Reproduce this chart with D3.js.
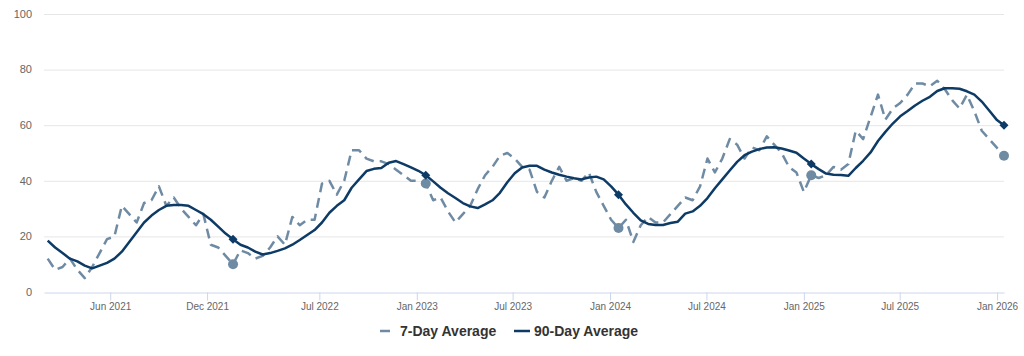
<!DOCTYPE html>
<html>
<head>
<meta charset="utf-8">
<script src="https://cdn.jsdelivr.net/npm/d3@7"></script>
<style>
  html, body { margin: 0; padding: 0; background: #ffffff; }
  svg { display: block; font-family: "Liberation Sans", Arial, sans-serif; }
</style>
</head>
<body>
<svg id="chart" width="1024" height="356"></svg>
<script>
// ---- Data (bi-weekly readings, last reading on 2026-01-14) ----
const lastDate = "2026-01-14";
const stepDays = 14;

const sevenDay = [
  12, 8, 9, 12, 8, 5, 9, 14, 19, 20,
  31, 28, 25, 32, 33, 38, 31, 34, 30, 27,
  24, 28, 17, 16, 13, 10, 15, 14, 12, 13,
  16, 20, 17, 27, 24, 26, 26, 39, 40, 35,
  40, 51, 51, 48, 47, 47, 46, 44, 42, 40,
  40, 39, 33, 34, 29, 25, 28, 31, 37, 42,
  45, 49, 50, 48, 45, 44, 36, 34, 40, 45,
  40, 41, 40, 43, 36, 31, 26, 23, 26, 18,
  24, 27, 25, 25, 28, 31, 34, 33, 38, 48,
  43, 48, 55, 53, 48, 52, 51, 56, 53, 50,
  45, 43, 36, 42, 41, 42, 45, 44, 46, 58,
  55, 63, 71, 62, 66, 68, 71, 75, 75, 74,
  76, 73, 69, 66, 71, 65, 58, 55, 52, 49
];

const ninetyDay = [
  18.5, 16, 14, 12, 11, 9.5, 8.5, 9.5, 10.5, 12,
  14.5, 18, 21.5, 25, 27.5, 29.5, 31, 31.3, 31.3, 31,
  29.5, 28, 26, 23.5, 21, 19, 17, 16, 14.5, 13.5,
  14, 14.8, 15.7, 17, 18.7, 20.5, 22.3, 25, 28.5, 31,
  33, 37.5, 40.5, 43.5, 44.3, 44.6, 46.5, 47.1, 46, 44.8,
  43.6, 42, 39.8, 37.5, 35.5, 33.8, 32, 30.8, 30.2, 31.5,
  33, 35.7, 39.5, 42.7, 44.8, 45.4, 45.4, 44, 43, 42.2,
  41.5, 40.9, 40.5, 41.2, 41.5, 40.5, 38, 35, 31.5, 28.5,
  25.8, 24.5, 24.1, 24.1, 24.8, 25.3, 28.2, 29, 31, 33.8,
  37.3, 40.5, 43.7, 46.8, 49.2, 50.5, 51.4, 52, 52.1, 51.6,
  50.9, 50.1, 48, 46, 44.2, 42.6, 42.2, 42.1, 41.8, 44.6,
  47.2, 50.2, 54.3, 57.6, 60.6, 63.2, 65.1, 67.1, 68.8, 70.2,
  72.3, 73.3, 73.3, 73.1, 72.2, 71, 68.5, 65.3, 62, 60
];

// indices that carry a highlighted marker (mid-January each year)
const markerIdx = [25, 51, 77, 103, 129];

const xDomain = ["2021-01-27", "2026-01-14"];
const xTickDates = ["2021-06-01", "2021-12-01", "2022-07-01", "2023-01-01", "2023-07-01",
                    "2024-01-01", "2024-07-01", "2025-01-01", "2025-07-01", "2026-01-01"];
const yTicks = [0, 20, 40, 60, 80, 100];
const seriesNames = ["7-Day Average", "90-Day Average"];

// ---- Build ----
(function () {
const parse = d3.utcParse("%Y-%m-%d");
const end = parse(lastDate);
const n = sevenDay.length;
const dates = d3.range(n).map(i => d3.utcDay.offset(end, -(n - 1 - i) * stepDays));

const M = { left: 44, right: 1004, top: 14, bottom: 292 };

const svg = d3.select("#chart");
const x = d3.scaleUtc().domain(xDomain.map(parse)).range([M.left, M.right]);
const y = d3.scaleLinear().domain([0, 100]).range([M.bottom, M.top]);

const col7 = "#6f8ba4";
const col90 = "#0d3b66";

// gridlines
svg.append("g")
  .selectAll("line")
  .data(yTicks.filter(t => t !== 0))
  .join("line")
  .attr("x1", M.left).attr("x2", M.right)
  .attr("y1", d => y(d) + 0.5).attr("y2", d => y(d) + 0.5)
  .attr("stroke", "#e6e6e6").attr("stroke-width", 1);

// y labels
svg.append("g")
  .selectAll("text")
  .data(yTicks)
  .join("text")
  .attr("x", 32).attr("y", d => y(d))
  .attr("dy", "0.35em")
  .attr("text-anchor", "end")
  .attr("fill", "#666666")
  .attr("font-size", 11)
  .text(d => d);

// x axis
const xAxis = d3.axisBottom(x)
  .tickValues(xTickDates.map(parse))
  .tickFormat(d3.utcFormat("%b %Y"))
  .tickSize(8)
  .tickSizeOuter(0);
const gx = svg.append("g").attr("transform", `translate(0,${M.bottom + 0.5})`).call(xAxis);
gx.select(".domain").attr("stroke", "#ccd6eb");
gx.selectAll(".tick line").attr("stroke", "#ccd6eb");
gx.selectAll(".tick text")
  .attr("fill", "#666666")
  .attr("font-size", 10)
  .attr("font-family", "'Liberation Sans', Arial, sans-serif")
  .attr("dy", "0.9em")
  .attr("y", 8);

// lines
const lineGen = d3.line().x((d, i) => x(dates[i])).y(d => y(d)).curve(d3.curveLinear);
svg.append("path")
  .datum(sevenDay)
  .attr("d", lineGen)
  .attr("fill", "none")
  .attr("stroke", col7)
  .attr("stroke-width", 2.5)
  .attr("stroke-dasharray", "10,6")
  .attr("stroke-linejoin", "round");

svg.append("path")
  .datum(ninetyDay)
  .attr("d", lineGen)
  .attr("fill", "none")
  .attr("stroke", col90)
  .attr("stroke-width", 2.5)
  .attr("stroke-linejoin", "round");

// markers
svg.append("g")
  .selectAll("circle")
  .data(markerIdx)
  .join("circle")
  .attr("cx", i => x(dates[i]))
  .attr("cy", i => y(sevenDay[i]))
  .attr("r", 5)
  .attr("fill", col7);

const dia = r => `M0,${-r}L${r},0L0,${r}L${-r},0Z`;
svg.append("g")
  .selectAll("path")
  .data(markerIdx)
  .join("path")
  .attr("transform", i => `translate(${x(dates[i])},${y(ninetyDay[i])})`)
  .attr("d", dia(4.5))
  .attr("fill", col90);

// legend
const legY = 331;
const leg = svg.append("g");
const items = [
  { name: seriesNames[0], color: col7, dash: "10,6", sx: 380, tx: 400 },
  { name: seriesNames[1], color: col90, dash: null, sx: 514, tx: 534 }
];
items.forEach(it => {
  leg.append("line")
    .attr("x1", it.sx).attr("x2", it.sx + 16)
    .attr("y1", legY).attr("y2", legY)
    .attr("stroke", it.color).attr("stroke-width", 2.5)
    .attr("stroke-dasharray", it.dash);
  leg.append("text")
    .attr("x", it.tx).attr("y", legY)
    .attr("dy", "0.35em")
    .attr("font-size", 14).attr("font-weight", "bold")
    .attr("fill", "#333333")
    .text(it.name);
});
})();
</script>
</body>
</html>
